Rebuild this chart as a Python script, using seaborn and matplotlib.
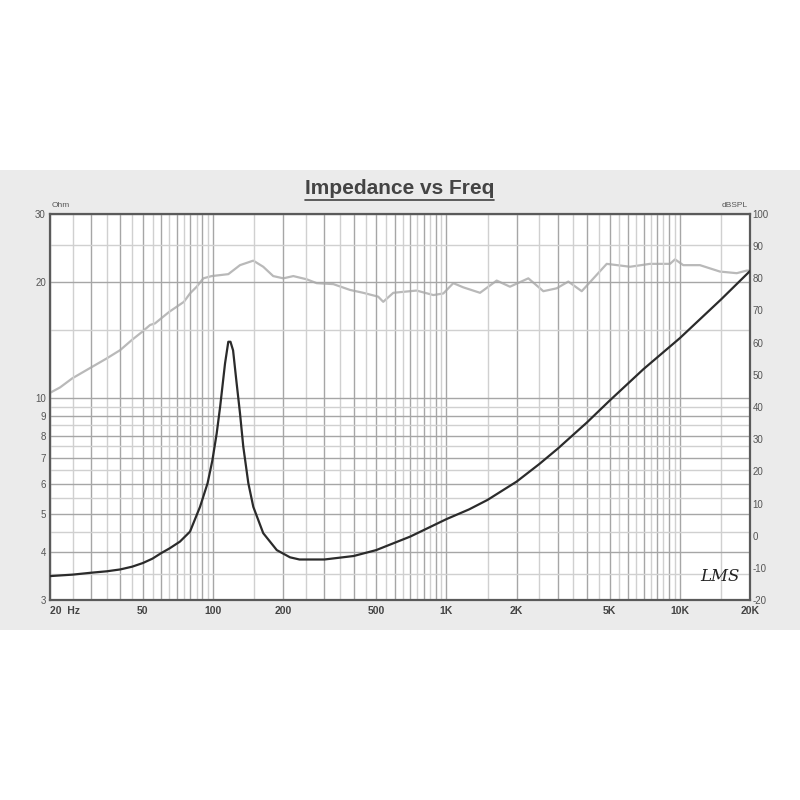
import matplotlib
matplotlib.use('Agg')
import matplotlib.pyplot as plt
from matplotlib.patches import Rectangle
from matplotlib.lines import Line2D
from matplotlib.ticker import FixedLocator, FuncFormatter, NullFormatter
import seaborn as sns
import pandas as pd

# impedance curve (Hz, Ohm)
imp_freq = [20, 25, 30, 35, 40, 45, 50, 55, 60, 65, 72.1, 79.6, 87.9, 94.7, 99.3, 103.6, 107.2, 112.5,
            116.2, 118.7, 121.8, 125.8, 130.4, 134.7, 141.6, 148.7, 164, 187.5, 213.6,
            234.5, 300, 400, 500, 700, 1000, 1250, 1500, 2000, 2500, 3000, 4000, 5000, 7000,
            10000, 15000, 20000]
imp_ohm = [3.46, 3.49, 3.53, 3.56, 3.6, 3.66, 3.74, 3.84, 3.97, 4.08, 4.25, 4.51, 5.23, 6.02, 6.9, 8.1, 9.5, 12.3,
           14.0, 14.0, 13.3, 11.1, 9.14, 7.49, 6.02, 5.23, 4.47, 4.04, 3.87,
           3.82, 3.82, 3.9, 4.04, 4.38, 4.86, 5.15, 5.45, 6.08, 6.75, 7.4, 8.65, 9.85, 11.9,
           14.3, 18.0, 21.35]

# SPL curve (Hz, dB)
spl_freq = [20, 22.1, 24.9, 30, 35, 40, 44.8, 49.7, 53.7, 56.4, 64.9, 75, 79.6, 85.1, 90.8,
            98.6, 116.2, 130.4, 148.7, 164, 181, 200, 220.7, 251.8, 278, 327.5, 386, 440,
            510, 536, 592, 745, 879, 970, 1070, 1181, 1393, 1642, 1872, 2244, 2602, 2969,
            3330, 3801, 4864, 6124, 7450, 9080, 9545, 10350, 12200, 14870, 17550, 19350, 20000]
spl_db = [44.4, 46.1, 48.9, 52.3, 55.1, 57.7, 60.8, 63.4, 65.5, 66.0, 69.6, 72.7, 75.3, 77.4, 80.0,
          80.7, 81.3, 84.1, 85.5, 83.6, 80.7, 80.0, 80.7, 79.7, 78.5, 78.2, 76.4, 75.5,
          74.3, 72.7, 75.5, 76.2, 74.8, 75.3, 78.5, 77.2, 75.5, 79.3, 77.4, 80.0, 76.0, 76.9,
          79.0, 76.0, 84.5, 83.6, 84.5, 84.5, 85.9, 84.1, 84.1, 82.1, 81.6, 82.4, 82.4]

x_labels = {20: '20  Hz', 50: '50', 100: '100', 200: '200', 500: '500',
            1000: '1K', 2000: '2K', 5000: '5K', 10000: '10K', 20000: '20K'}
ohm_labels = [3, 4, 5, 6, 7, 8, 9, 10, 20, 30]
db_ticks = list(range(-20, 101, 10))

imp = pd.DataFrame({'freq': imp_freq, 'ohm': imp_ohm})
spl = pd.DataFrame({'freq': spl_freq, 'db': spl_db})

sns.set_style('white')
plt.rcParams['font.family'] = ['Liberation Sans', 'DejaVu Sans']
plt.rcParams['axes.unicode_minus'] = False

fig = plt.figure(figsize=(8, 8), dpi=100)
fig.patch.set_facecolor('white')
# gray panel behind the chart
fig.add_artist(Rectangle((0, 1 - 630 / 800), 1, 460 / 800, transform=fig.transFigure,
                         facecolor='#ebebeb', edgecolor='none', zorder=-10))

ax = fig.add_axes([50 / 800, 1 - 600 / 800, 700 / 800, 386 / 800])
ax.set_xscale('log')
ax.set_yscale('log')
ax.set_xlim(20, 20000)
ax.set_ylim(3, 30)

# grid: whole steps darker, half steps lighter
x_major = [m * d for d in (10, 100, 1000) for m in range(1, 10)] + [10000, 20000]
x_major = [v for v in x_major if 20 <= v <= 20000]
x_minor = [(m + 0.5) * d for d in (10, 100, 1000, 10000) for m in range(1, 10)]
x_minor = [v for v in x_minor if 20 < v < 20000]
y_major = [3, 4, 5, 6, 7, 8, 9, 10, 20, 30]
y_minor = [3.5, 4.5, 5.5, 6.5, 7.5, 8.5, 9.5, 15, 25]
ax.xaxis.set_major_locator(FixedLocator(x_major))
ax.xaxis.set_minor_locator(FixedLocator(x_minor))
ax.yaxis.set_major_locator(FixedLocator(y_major))
ax.yaxis.set_minor_locator(FixedLocator(y_minor))
ax.xaxis.set_major_formatter(FuncFormatter(lambda v, p: x_labels.get(int(round(v)), '')))
ax.yaxis.set_major_formatter(FuncFormatter(lambda v, p: '%d' % v if int(round(v)) in ohm_labels else ''))
ax.xaxis.set_minor_formatter(NullFormatter())
ax.yaxis.set_minor_formatter(NullFormatter())
ax.grid(which='major', color='#a6a6a6', lw=1.0)
ax.grid(which='minor', color='#d0d0d0', lw=1.0)
ax.tick_params(which='both', length=0)
ax.tick_params(axis='x', pad=4, labelsize=7.5, labelcolor='#444444')
ax.tick_params(axis='y', pad=3, labelsize=7, labelcolor='#555555')
for lab in ax.get_xticklabels():
    lab.set_fontweight('bold')
    if lab.get_text().startswith('20 '):
        lab.set_ha('left')
for s in ax.spines.values():
    s.set_color('#5a5a5a')
    s.set_linewidth(1.6)

ax2 = ax.twinx()
ax2.set_ylim(-20, 100)
ax2.set_yticks(db_ticks)
ax2.tick_params(length=0, labelsize=7, labelcolor='#555555', pad=2)
ax2.grid(False)
for s in ax2.spines.values():
    s.set_visible(False)

sns.lineplot(data=spl, x='freq', y='db', ax=ax2, color='#b9b9b9', lw=1.6, zorder=2)
sns.lineplot(data=imp, x='freq', y='ohm', ax=ax, color='#2b2b2b', lw=1.6, zorder=3)
# impedance axes in front (transparent), spl axes behind with the white face
ax.set_zorder(ax2.get_zorder() + 1)
ax.patch.set_visible(False)
ax2.patch.set_visible(True)
ax2.patch.set_facecolor('white')
ax.set_xlabel('')
ax.set_ylabel('')
ax2.set_xlabel('')
ax2.set_ylabel('')
ax.set_xlim(20, 20000)

ax.text(0.003, 1.012, 'Ohm', transform=ax.transAxes, fontsize=6, color='#555555', va='bottom')
ax.text(0.997, 1.012, 'dBSPL', transform=ax.transAxes, fontsize=6, color='#555555',
        va='bottom', ha='right')
ax.text(0.985, 0.04, 'LMS', transform=ax.transAxes, fontsize=12, color='#222222',
        style='italic', family='DejaVu Serif', ha='right', va='bottom')

fig.text(0.5, 1 - 188 / 800, 'Impedance vs Freq', ha='center', va='center',
         fontsize=15, fontweight='bold', color='#444444')
fig.add_artist(Line2D([305 / 800, 494 / 800], [1 - 199.5 / 800, 1 - 199.5 / 800],
                      transform=fig.transFigure, color='#444444', lw=1.2))

fig.savefig('out.png', dpi=100)
